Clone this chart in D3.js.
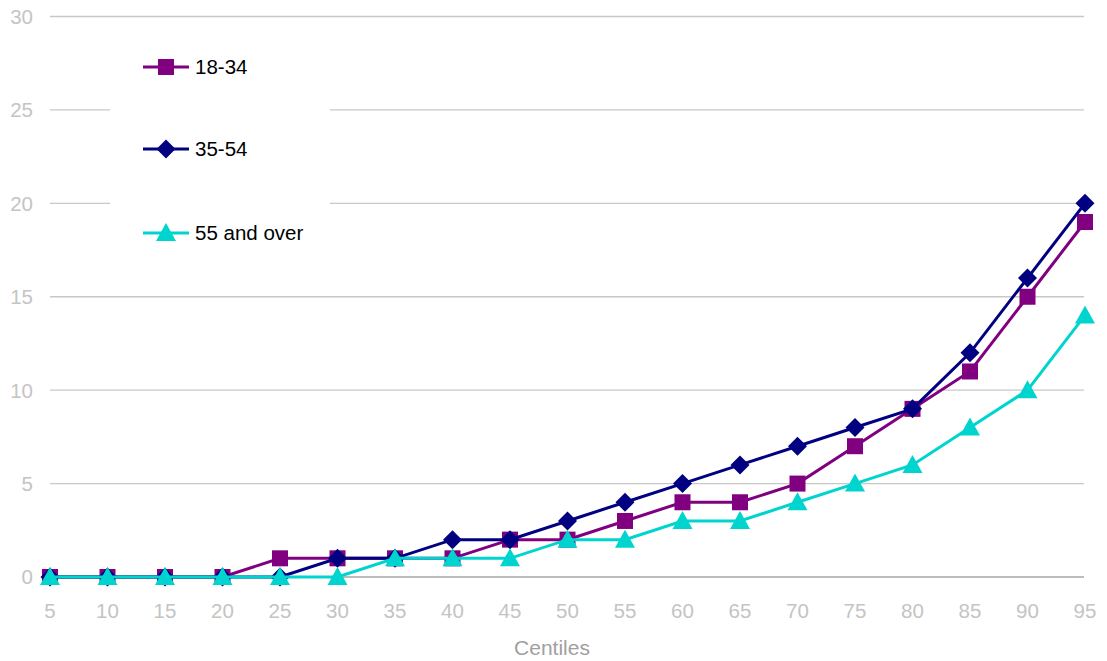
<!DOCTYPE html>
<html><head><meta charset="utf-8">
<script src="https://cdn.jsdelivr.net/npm/d3@7"></script>
<style>body{margin:0;background:#fff}svg{display:block}text{font-family:"Liberation Sans",Arial,sans-serif}</style>
</head><body><svg id="c" width="1107" height="661"></svg>
<script>
const centiles = [5,10,15,20,25,30,35,40,45,50,55,60,65,70,75,80,85,90,95];
const s1834 = [0,0,0,0,1,1,1,1,2,2,3,4,4,5,7,9,11,15,19];
const s3554 = [0,0,0,0,0,1,1,2,2,3,4,5,6,7,8,9,12,16,20];
const s55 = [0,0,0,0,0,0,1,1,1,2,2,3,3,4,5,6,8,10,14];
const yTicks = [0,5,10,15,20,25,30];
const seriesNames = ["18-34","35-54","55 and over"];
const seriesColors = ["#800080","#000080","#00d4cf"];
const seriesShapes = ["square","diamond","triangle"];

const svg = d3.select("#c");
const x = d3.scalePoint().domain(centiles).range([50,1085]);
const y = d3.scaleLinear().domain([0,30]).range([577,16.5]);

// gridlines
svg.append("g").selectAll("line").data(yTicks).join("line")
  .attr("x1",50).attr("x2",1084)
  .attr("y1",d=>y(d)).attr("y2",d=>y(d))
  .attr("stroke",d=>d===0?"#a6a6a6":"#c8c8c8").attr("stroke-width",1.3);

// y labels
svg.append("g").selectAll("text").data(yTicks).join("text")
  .attr("x",33).attr("y",d=>y(d)).attr("dy","0.36em").attr("text-anchor","end")
  .attr("fill","#c4c4c4").attr("font-size",20.5).text(d=>d);

// x labels
svg.append("g").selectAll("text").data(centiles).join("text")
  .attr("x",d=>x(d)).attr("y",611).attr("dy","0.36em").attr("text-anchor","middle")
  .attr("fill","#c4c4c4").attr("font-size",20.5).text(d=>d);

svg.append("text").attr("x",552).attr("y",647).attr("dy","0.36em").attr("text-anchor","middle")
  .attr("fill","#a0a0a0").attr("font-size",21).text("Centiles");

// legend background
svg.append("rect").attr("x",110).attr("y",30).attr("width",220).attr("height",232).attr("fill","#fff");

function marker(g, shape, color, cx, cy){
  if(shape==="square"){
    g.append("rect").attr("x",cx-8).attr("y",cy-8).attr("width",16).attr("height",16).attr("fill",color);
  } else if(shape==="diamond"){
    g.append("path").attr("d",`M${cx},${cy-9.5}L${cx+9.5},${cy}L${cx},${cy+9.5}L${cx-9.5},${cy}Z`).attr("fill",color);
  } else {
    g.append("path").attr("d",`M${cx},${cy-10}L${cx+10},${cy+8}L${cx-10},${cy+8}Z`).attr("fill",color);
  }
}

const all = [s1834,s3554,s55];
all.forEach((vals,i)=>{
  const g = svg.append("g");
  const line = d3.line().x((d,j)=>x(centiles[j])).y(d=>y(d));
  g.append("path").attr("d",line(vals)).attr("fill","none").attr("stroke",seriesColors[i]).attr("stroke-width",3);
  vals.forEach((v,j)=>marker(g, seriesShapes[i], seriesColors[i], x(centiles[j]), y(v)));
});

// legend
const ly = [67,149,233];
seriesNames.forEach((n,i)=>{
  const g = svg.append("g");
  g.append("line").attr("x1",143).attr("x2",189).attr("y1",ly[i]).attr("y2",ly[i]).attr("stroke",seriesColors[i]).attr("stroke-width",3);
  marker(g, seriesShapes[i], seriesColors[i], 166, ly[i]);
  g.append("text").attr("x",195).attr("y",ly[i]).attr("dy","0.36em").attr("font-size",20.5).attr("fill","#000").text(n);
});
</script></body></html>
